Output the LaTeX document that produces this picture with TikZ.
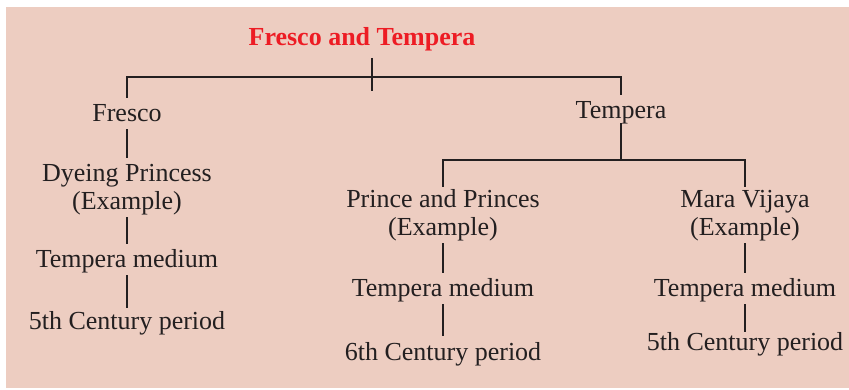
\documentclass[tikz,border=0pt]{standalone}
\usepackage{fontspec}
\setmainfont{Liberation Serif}
\definecolor{bgpink}{RGB}{237,205,193}
\definecolor{ink}{RGB}{35,31,32}
\definecolor{titlered}{RGB}{237,28,36}
\begin{document}
\begin{tikzpicture}[x=1pt,y=-1pt,
  lbl/.style={font=\fontsize{26}{28}\selectfont, text=ink, inner xsep=0pt, inner ysep=7pt,
    text height=17pt, text depth=0pt, anchor=base, align=center},
  two/.style={text height=45pt},
  conn/.style={draw=ink, line width=1.5pt}]
\useasboundingbox (0,0) rectangle (849,390);
\fill[white] (0,0) rectangle (849,390);
\fill[bgpink] (6,7) rectangle (849,388);
% title
\node[lbl, font=\fontsize{26}{28}\selectfont\bfseries, text=titlered] (title) at (362,46) {Fresco and Tempera};
\coordinate (tickT) at (372,58);
\coordinate (tickB) at (372,91);
\coordinate (j1) at (372,77);
% left branch
\node[lbl] (fresco) at (127,122) {Fresco};
\node[lbl, two] (dyeing) at (127,210) {Dyeing Princess\\(Example)};
\node[lbl] (tmL) at (127,268) {Tempera medium};
\node[lbl] (c5L) at (127,329) {5th Century period};
% right branch
\node[lbl] (tempera) at (621,119) {Tempera};
\coordinate (j2) at (621,160);
\node[lbl, two] (prince) at (443,236) {Prince and Princes\\(Example)};
\node[lbl, two] (mara) at (745,236) {Mara Vijaya\\(Example)};
\node[lbl] (tmM) at (443,297) {Tempera medium};
\node[lbl] (c6) at (443,360) {6th Century period};
\node[lbl] (tmR) at (745,297) {Tempera medium};
\node[lbl] (c5R) at (745,350) {5th Century period};
% connectors
\draw[conn] (tickT) -- (tickB);
\draw[conn] (fresco.north) |- (j1) -| (tempera.north);
\draw[conn] (fresco) -- (dyeing);
\draw[conn] (dyeing) -- (tmL);
\draw[conn, shorten >=-3pt] (tmL) -- (c5L);
\draw[conn, shorten <=-3pt] (tempera.south) -- (j2);
\draw[conn, shorten >=-3pt] (j2) -| (prince.north);
\draw[conn, shorten >=-3pt] (j2) -| (mara.north);
\draw[conn] (prince) -- (tmM);
\draw[conn] (tmM) -- (c6);
\draw[conn] (mara) -- (tmR);
\draw[conn, shorten >=-6pt] (tmR) -- (c5R);
\end{tikzpicture}
\end{document}
